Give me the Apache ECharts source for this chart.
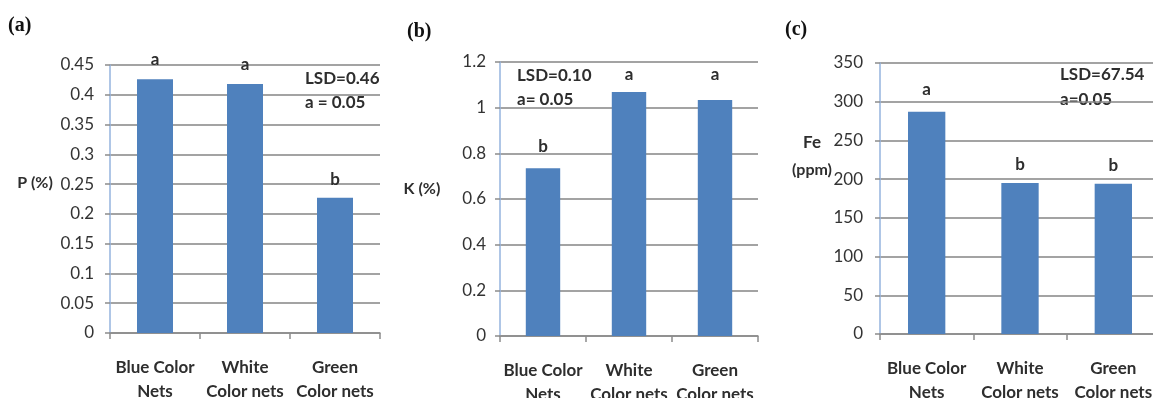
<!DOCTYPE html>
<html><head><meta charset="utf-8">
<script src="https://cdn.jsdelivr.net/npm/echarts@6/dist/echarts.min.js"></script>
<style>html,body{margin:0;padding:0;background:#fff}#c{width:1153px;height:398px}</style>
</head><body><div id="c"></div>
<script>
const categories = ['Blue Color\nNets', 'White\nColor nets', 'Green\nColor nets'];
const pValues = [0.426, 0.418, 0.227];
const kValues = [0.735, 1.069, 1.034];
const feValues = [287, 195, 194];
const pLetters = ['a', 'a', 'b'];
const kLetters = ['b', 'a', 'a'];
const feLetters = ['a', 'b', 'b'];
const pAxis = { min: 0, max: 0.45, interval: 0.05 };
const kAxis = { min: 0, max: 1.2, interval: 0.2 };
const feAxis = { min: 0, max: 350, interval: 50 };
const panelTitles = ['(a)', '(b)', '(c)'];
const lsdTexts = [['LSD=0.46', 'a = 0.05'], ['LSD=0.10', 'a= 0.05'], ['LSD=67.54', 'a=0.05']];

const FONT = 'Lato';
const TXT = '#2e2e2e';
const BAR = '#4F81BD';
const labelDist = [[11, 11, 10], [13, 9, 17], [14, 10, 10]];

const grids = [
  { left: 110, width: 270, top: 65, bottom: 65, outerBoundsMode: 'none', containLabel: false },
  { left: 500, width: 258, top: 62, bottom: 62, outerBoundsMode: 'none', containLabel: false },
  { left: 880, width: 280, top: 63, bottom: 64, outerBoundsMode: 'none', containLabel: false }
];
const yCfg = [pAxis, kAxis, feAxis];
const vals = [pValues, kValues, feValues];
const letters = [pLetters, kLetters, feLetters];
const yMargins = [16, 14, 17];

const option = {
  animation: false,
  backgroundColor: '#fff',
  grid: grids,
  xAxis: grids.map((g, i) => ({
    type: 'category', gridIndex: i, data: categories,
    axisLine: { lineStyle: { color: '#8c8c8c', width: 1.5 } },
    axisTick: { show: true, length: 6, lineStyle: { color: '#8c8c8c', width: 1.5 } },
    axisLabel: { interval: 0, margin: 23, fontFamily: FONT, fontWeight: 'bold', fontSize: 17, lineHeight: 24, color: TXT }
  })),
  yAxis: grids.map((g, i) => ({
    type: 'value', gridIndex: i, min: yCfg[i].min, max: yCfg[i].max, interval: yCfg[i].interval,
    axisLine: { show: true, lineStyle: { color: '#95b3de', width: 1.5 } },
    axisTick: { show: true, length: 5, lineStyle: { color: '#8c8c8c', width: 1.5 } },
    splitLine: { lineStyle: { color: '#858585', width: 1.7 } },
    axisLabel: { margin: yMargins[i], fontFamily: FONT, fontSize: 17, color: '#333' }
  })),
  series: vals.map((v, i) => ({
    type: 'bar', xAxisIndex: i, yAxisIndex: i, barWidth: '40%',
    itemStyle: { color: BAR },
    data: v.map((val, j) => ({
      value: val,
      label: { show: true, position: 'top', distance: labelDist[i][j], formatter: letters[i][j],
        fontFamily: FONT, fontWeight: 'bold', fontSize: 17, color: TXT }
    }))
  })),
  graphic: [
    { type: 'text', left: 8, top: 16, style: { text: panelTitles[0], font: 'bold 20px "Liberation Serif"', fill: '#111' } },
    { type: 'text', left: 407, top: 22, style: { text: panelTitles[1], font: 'bold 20px "Liberation Serif"', fill: '#111' } },
    { type: 'text', left: 785, top: 20, style: { text: panelTitles[2], font: 'bold 20px "Liberation Serif"', fill: '#111' } },
    { type: 'text', x: 35, y: 183, style: { text: 'P (%)', font: 'bold 16px Lato', fill: TXT, align: 'center', verticalAlign: 'middle' } },
    { type: 'text', x: 422, y: 189, style: { text: 'K (%)', font: 'bold 16px Lato', fill: TXT, align: 'center', verticalAlign: 'middle' } },
    { type: 'text', x: 812, y: 143, style: { text: 'Fe', font: 'bold 17px Lato', fill: TXT, align: 'center', verticalAlign: 'middle' } },
    { type: 'text', x: 812, y: 170, style: { text: '(ppm)', font: 'bold 16px Lato', fill: TXT, align: 'center', verticalAlign: 'middle' } },
    { type: 'text', x: 305, y: 79, style: { text: lsdTexts[0][0], font: 'bold 17px Lato', fill: TXT, verticalAlign: 'middle' } },
    { type: 'text', x: 305, y: 103, style: { text: lsdTexts[0][1], font: 'bold 17px Lato', fill: TXT, verticalAlign: 'middle' } },
    { type: 'text', x: 517, y: 76, style: { text: lsdTexts[1][0], font: 'bold 17px Lato', fill: TXT, verticalAlign: 'middle' } },
    { type: 'text', x: 517, y: 100, style: { text: lsdTexts[1][1], font: 'bold 17px Lato', fill: TXT, verticalAlign: 'middle' } },
    { type: 'text', x: 1060, y: 75, style: { text: lsdTexts[2][0], font: 'bold 17px Lato', fill: TXT, verticalAlign: 'middle' } },
    { type: 'text', x: 1060, y: 100, style: { text: lsdTexts[2][1], font: 'bold 17px Lato', fill: TXT, verticalAlign: 'middle' } }
  ]
};
const chart = echarts.init(document.getElementById('c'), null, { renderer: 'canvas' });
chart.setOption(option);
</script></body></html>
